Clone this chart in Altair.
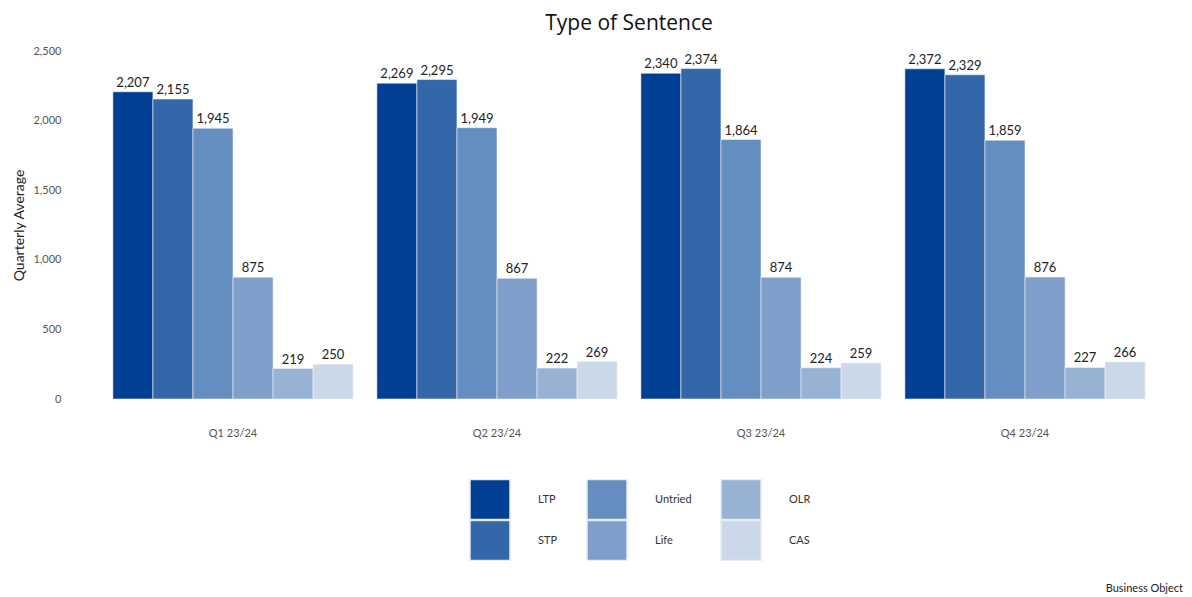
import altair as alt
import pandas as pd

quarters = ["Q1 23/24", "Q2 23/24", "Q3 23/24", "Q4 23/24"]
types = ["LTP", "STP", "Untried", "Life", "OLR", "CAS"]
colors = ["#003f93", "#3467a9", "#658ec0", "#7f9fca", "#98b2d5", "#cbd8ea"]
ltp = [2207, 2269, 2340, 2372]
stp = [2155, 2295, 2374, 2329]
untried = [1945, 1949, 1864, 1859]
life = [875, 867, 874, 876]
olr = [219, 222, 224, 227]
cas = [250, 269, 259, 266]
y_ticks = [0, 500, 1000, 1500, 2000, 2500]
footer = ["Business Object"]

series = [ltp, stp, untried, life, olr, cas]
rows = []
for t, vals in zip(types, series):
    for q, v in zip(quarters, vals):
        rows.append({"quarter": q, "type": t, "value": v})
df = pd.DataFrame(rows)

W, H = 1056, 348
FONT = "Lato"
yscale = alt.Scale(domain=[0, 2500], nice=False, zero=True)

base = alt.Chart(df).encode(
    x=alt.X("quarter:N", sort=quarters,
            scale=alt.Scale(paddingInner=0.09, paddingOuter=0.045),
            axis=alt.Axis(title=None, labelAngle=0, domain=False, ticks=False,
                          labelPadding=28, labelFontSize=11, labelColor="#555555",
                          labelFont=FONT)),
    xOffset=alt.XOffset("type:N", sort=types, scale=alt.Scale(paddingInner=0, paddingOuter=0)),
)

bars = base.mark_bar(stroke="#eef2f8", strokeWidth=0.6).encode(
    y=alt.Y("value:Q", scale=yscale,
            axis=alt.Axis(title="Quarterly Average", values=y_ticks,
                          labelExpr="format(datum.value, ',')",
                          grid=False, domain=False, ticks=False,
                          labelPadding=40, labelFontSize=11, labelColor="#555555",
                          labelFont=FONT, titleFont=FONT, titleFontSize=14,
                          titleFontWeight="normal", titleColor="#222222", titlePadding=6)),
    color=alt.Color("type:N", sort=types,
                    scale=alt.Scale(domain=types, range=colors),
                    legend=alt.Legend(title=None, values=types, columns=3,
                                      orient="none", legendX=368, legendY=428,
                                      symbolType="square", symbolSize=1600,
                                      symbolStrokeColor="#e6ebf2", symbolStrokeWidth=1.5,
                                      symbolOpacity=1, clipHeight=41,
                                      labelOffset=27, labelFontSize=11, labelColor="#333333",
                                      labelFont=FONT, rowPadding=0, columnPadding=28)),
)

labels = base.mark_text(baseline="bottom", dy=-2, fontSize=13, color="#222222", font=FONT).encode(
    y=alt.Y("value:Q", scale=yscale),
    text=alt.Text("value:Q", format=","),
)

foot = alt.Chart(pd.DataFrame({"t": footer})).mark_text(
    align="right", baseline="alphabetic", fontSize=11, color="#222222", font=FONT
).encode(x=alt.value(1082), y=alt.value(541), text="t:N")

chart = alt.layer(bars, labels, foot).properties(
    width=W, height=H,
    title=alt.TitleParams("Type of Sentence", fontSize=21, font="Open Sans",
                          fontWeight="normal", color="#111111", anchor="middle", offset=11),
    autosize=alt.AutoSizeParams(type="none"),
    padding={"left": 93, "top": 43, "right": 27, "bottom": 196},
).configure_view(stroke=None)

chart.save("out.html", embed_options={"renderer": "svg", "actions": False})
